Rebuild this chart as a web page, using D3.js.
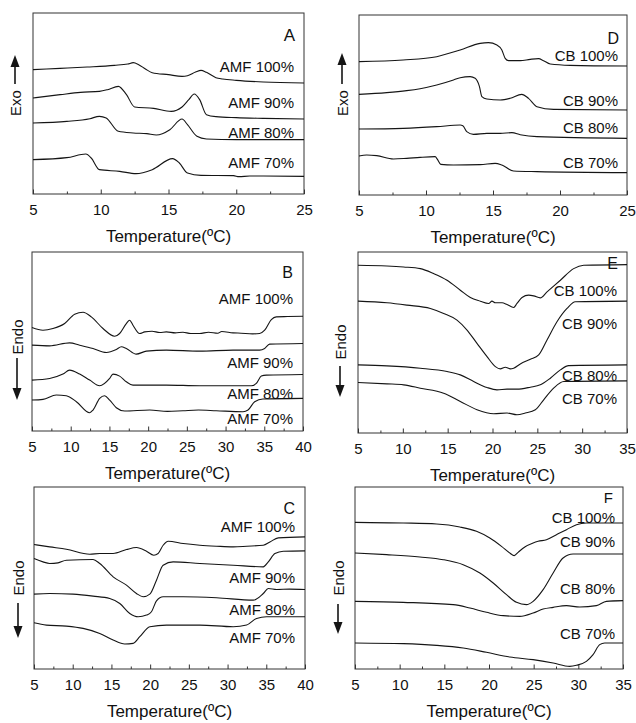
<!DOCTYPE html>
<html>
<head>
<meta charset="utf-8">
<script src="https://cdn.jsdelivr.net/npm/d3@7"></script>
<style>
  html, body { margin: 0; padding: 0; background: #fff; }
  svg { display: block; }
  text { font-family: "Liberation Sans", Arial, sans-serif; fill: #111; }
</style>
</head>
<body>
<svg id="chart" width="636" height="723"></svg>
<script>
// ---------------- DATA ----------------
// x: temperature (ºC); y: heat flow (arbitrary units)
const panelNames = ["A", "B", "C", "D", "E", "F"];
const labelsAMF = ["AMF 100%", "AMF 90%", "AMF 80%", "AMF 70%"];
const labelsCB = ["CB 100%", "CB 90%", "CB 80%", "CB 70%"];
const yLabels = ["Exo", "Endo", "Endo", "Exo", "Endo", "Endo"];
const xTitle = "Temperature(ºC)";

const xDomainAD = [5, 25], ticksAD = [5, 10, 15, 20, 25];
const xDomainBC = [5, 40], ticksBC = [5, 10, 15, 20, 25, 30, 35, 40];
const xDomainEF = [5, 35], ticksEF = [5, 10, 15, 20, 25, 30, 35];

// Panel A – AMF crystallisation (exo up)
const curvesA = [
  [[5,373],[7,377],[9,381],[11,386],[12,390],[12.4,394],[12.8,388],[13.3,375],[13.8,364],[15,358],[16,353],[16.4,355],[17,366],[17.4,371],[17.8,365],[18.5,349],[19,345],[20,341],[22,336],[25,333]],
  [[5,288],[7,298],[8.5,305],[9.9,308],[10.5,313],[11.3,323],[11.9,298],[12.5,261],[13.9,257],[15.2,248],[16,261],[16.5,283],[16.9,300],[17.3,283],[17.8,238],[18.5,232],[20,229],[22,227],[25,225]],
  [[5,213],[7.5,218],[9.2,226],[9.9,233],[10.4,228],[11.3,188],[12.4,183],[13.4,181],[14.1,177],[15.1,193],[16,225],[16.4,208],[17.1,173],[17.8,165],[20,163],[25,163]],
  [[5,103],[7.5,109],[8.9,120],[9.3,108],[9.9,73],[11.4,68],[12.6,61],[13.8,73],[15.3,106],[15.8,93],[16.4,63],[17.4,56],[19.8,55],[20.2,52],[21,54],[25,53]]
];
const domainA = [0, 543];

// Panel B – AMF melting (endo down)
const curvesB = [
  [[5,311],[6.42,303],[7.71,308],[9.22,323],[10.51,351],[11.59,357],[12.66,343],[14.17,308],[15.68,285],[16.32,293],[17.18,323],[17.61,333],[18.04,318],[18.9,293],[19.55,298],[20.5,300],[21.5,296],[22.35,298],[23.5,295],[24.5,297],[25.5,293],[26.65,293],[27.8,297],[29,294],[29.5,299],[30.96,295],[32,294],[33.5,292],[34.4,293],[35.05,303],[35.91,335],[36.55,343],[38,344],[40,345]],
  [[5,258],[7.28,256],[9.86,265],[11.16,258],[12.88,248],[14.6,236],[15.89,245],[16.54,253],[17.18,248],[18.47,231],[19.77,240],[22.35,243],[26.65,240],[30.96,243],[34.4,243],[35.05,248],[35.69,261],[40,263]],
  [[5,153],[7.28,158],[9.0,171],[9.86,183],[11.16,171],[12.45,153],[13.74,136],[15.03,158],[15.46,171],[16.32,165],[17.18,148],[18.04,138],[22.35,138],[26.65,136],[30.96,136],[33.33,136],[33.97,143],[34.62,165],[35.26,168],[40,170]],
  [[5,93],[6.42,95],[8.14,108],[9.43,106],[10.73,88],[12.45,55],[12.88,63],[13.74,98],[14.38,106],[15.03,93],[15.89,70],[16.97,60],[20.2,63],[22.5,59],[24.5,61],[26.5,63],[28.8,61],[32.25,58],[32.9,63],[33.76,88],[34.83,96],[40,98]]
];
const domainB = [0, 538];

// Panel C – AMF melting, second program (endo down)
const curvesC = [
  [[5,374],[7.03,367],[9.18,360],[12.2,345],[13.49,347],[15.22,347],[16.94,359],[18.23,365],[19.53,354],[20.47,342],[21.03,347],[21.68,372],[22.33,384],[24.27,377],[26.42,372],[28.58,369],[30.73,367],[32.5,369],[34.61,372],[35.47,382],[36.55,394],[40,397]],
  [[5,332],[6.16,322],[7.03,317],[8.1,319],[9.18,327],[12.63,329],[13.49,317],[15.22,277],[16.94,252],[18.23,227],[19.09,217],[19.96,225],[20.82,267],[21.68,312],[22.97,322],[26.42,317],[30.73,312],[34.61,307],[35.26,322],[36.12,347],[37.2,354],[40,355]],
  [[5,225],[7.03,227],[10.04,225],[12.63,219],[14.78,212],[16.08,197],[17.37,167],[18.45,157],[19.53,162],[20.17,172],[20.82,205],[21.68,217],[24.27,217],[28.58,214],[33.32,207],[34.61,227],[35.26,242],[36.34,239],[38,240],[40,239]],
  [[5,139],[6.59,132],[9.18,129],[11.34,122],[13.49,107],[15.22,87],[16.72,75],[17.8,77],[18.66,97],[19.96,127],[22.11,132],[26.42,132],[30.73,127],[32.46,132],[33.75,152],[35.04,157],[40,157]]
];
const domainC = [0, 547];

// Panel D – CB crystallisation (exo up)
const curvesD = [
  [[5,400],[8.3,405],[10.8,415],[12.55,435],[14.04,455],[14.66,457],[15.29,450],[15.66,435],[15.91,410],[16.16,403],[17.03,403],[17.78,407],[18.4,409],[18.77,403],[19.27,393],[20.77,389],[25,387]],
  [[5,302],[7.07,307],[8.56,313],[9.56,319],[10.8,330],[12.05,345],[12.55,352],[13.29,355],[13.67,350],[13.99,325],[14.17,295],[14.54,288],[15.54,285],[16.28,290],[17.15,302],[17.65,290],[18.28,265],[19.52,257],[25,255]],
  [[5,198],[8.31,200],[10.8,205],[12.55,210],[12.75,208],[13.04,190],[13.54,182],[14.54,185],[15.54,185],[16.41,187],[17.03,181],[18.28,175],[25,170]],
  [[5,117],[5.57,120],[6.32,118],[7.57,108],[8.56,110],[9.56,113],[10.68,115],[10.85,107],[11.1,92],[12.05,90],[14.04,91],[15.16,95],[15.66,90],[16.53,72],[18.28,70],[25,67]]
];
const domainD = [0, 540];

// Panel E – CB melting (endo down)
const curvesE = [
  [[5,505],[8.23,503],[10.09,500],[11.95,495],[13.44,480],[14.93,460],[16.41,430],[17.53,408],[18.64,397],[19.57,390],[19.94,397],[20.32,392],[21.06,392],[21.62,387],[22.36,378],[22.73,390],[23.29,408],[24.03,415],[24.59,413],[25.33,407],[26.08,425],[27.57,460],[29.05,495],[30.17,505],[35,507]],
  [[5,397],[8.23,392],[10.46,385],[13.07,375],[14.55,360],[16.04,340],[17.16,310],[18.27,270],[19.39,230],[20.32,200],[20.87,193],[21.43,198],[21.99,193],[22.36,195],[23.1,208],[24.22,222],[25.15,235],[26.08,280],[27.19,335],[28.31,375],[29.24,395],[35,397]],
  [[5,205],[8.23,202],[11.95,195],[14.93,185],[16.41,175],[17.9,155],[19.39,137],[20.5,130],[21.62,132],[22.73,132],[24.22,138],[25.33,145],[26.45,165],[27.57,190],[28.49,203],[35,205]],
  [[5,152],[8.23,148],[10.09,145],[11.95,135],[14.55,120],[16.41,95],[18.27,70],[20.13,58],[21.62,60],[22.73,55],[23.66,60],[24.78,70],[25.71,100],[26.82,135],[27.94,155],[35,157]]
];
const domainE = [0, 545];

// Panel F – CB melting, second program (endo down)
const curvesF = [
  [[5,440],[10.4,438],[14.13,435],[16.74,426],[18.6,413],[20.09,393],[21.4,368],[22.33,348],[22.82,340],[23.26,350],[24.01,366],[24.94,378],[25.5,383],[26.43,388],[27.55,403],[28.67,418],[29.79,433],[30.9,438],[35,438]],
  [[5,348],[8.54,343],[12.27,336],[14.88,328],[17.11,313],[18.98,288],[20.47,258],[21.96,223],[23.08,200],[24.19,193],[24.94,203],[26.06,238],[27.18,288],[28.29,333],[29.41,345],[35,345]],
  [[5,203],[10.4,200],[15.99,193],[17.86,183],[19.72,170],[21.59,160],[23.45,158],[24.94,168],[26.06,180],[27.18,185],[28.67,190],[30.16,186],[32.02,190],[33.14,203],[35,205]],
  [[5,78],[10.4,76],[14.13,71],[17.11,63],[19.72,50],[22.33,36],[24.94,28],[27.18,18],[29.04,8],[29.79,11],[30.9,23],[31.65,43],[32.39,73],[32.95,78],[35,78]]
];
const domainF = [0, 546];

// ---------------- LAYOUT ----------------
const layout = {
  A: {box: [33, 304, 13, 194],  xd: xDomainAD, ticks: ticksAD, yd: domainA, curves: curvesA, labels: labelsAMF,
      labY: [66, 102, 132, 162], labR: 294, letter: [295, 35], letterSize: 17,
      ylab: {x: 15, cy: 103, a0: 84, a1: 55}},
  B: {box: [32, 303, 252, 431], xd: xDomainBC, ticks: ticksBC, yd: domainB, curves: curvesB, labels: labelsAMF,
      labY: [298, 362, 393, 418], labR: 293, letter: [293, 272], letterSize: 16,
      ylab: {x: 17, cy: 337, a0: 358, a1: 400}},
  C: {box: [34, 305, 487, 669], xd: xDomainBC, ticks: ticksBC, yd: domainC, curves: curvesC, labels: labelsAMF,
      labY: [526, 577, 609, 637], labR: 295, letter: [295, 508], letterSize: 16,
      ylab: {x: 18, cy: 578, a0: 603, a1: 638}},
  D: {box: [359, 627, 15, 195], xd: xDomainAD, ticks: ticksAD, yd: domainD, curves: curvesD, labels: labelsCB,
      labY: [55, 100, 127, 162], labR: 618, letter: [619, 38], letterSize: 16,
      ylab: {x: 342, cy: 103, a0: 84, a1: 53}},
  E: {box: [358, 627, 252, 433], xd: xDomainEF, ticks: ticksEF, yd: domainE, curves: curvesE, labels: labelsCB,
      labY: [290, 323, 375, 398], labR: 617, letter: [618, 263], letterSize: 16,
      ylab: {x: 340, cy: 342, a0: 366, a1: 397}},
  F: {box: [355, 623, 487, 669], xd: xDomainEF, ticks: ticksEF, yd: domainF, curves: curvesF, labels: labelsCB,
      labY: [517, 541, 588, 633], labR: 615, letter: [613, 497], letterSize: 15,
      ylab: {x: 338, cy: 578, a0: 604, a1: 634}}
};

const svg = d3.select("#chart");
const ink = "#151515";

panelNames.forEach((name, pi) => {
  const p = layout[name];
  const [x0, x1, y0, y1] = p.box;
  const x = d3.scaleLinear().domain(p.xd).range([x0, x1]);
  const y = d3.scaleLinear().domain(p.yd).range([y1, y0]);
  const g = svg.append("g");

  // frame
  g.append("rect").attr("x", x0).attr("y", y0).attr("width", x1 - x0).attr("height", y1 - y0)
    .attr("fill", "none").attr("stroke", "#333").attr("stroke-width", 1);

  // minor ticks
  const step = p.ticks[1] - p.ticks[0];
  const minor = p.ticks.slice(0, -1).map(t => t + step / 2);
  const minorAxis = d3.axisBottom(x).tickValues(minor).tickSize(-2.5).tickFormat("");
  g.append("g").attr("transform", `translate(0,${y1})`).call(minorAxis)
    .call(s => s.select(".domain").remove())
    .call(s => s.selectAll("line").attr("stroke", "#333"));

  // major ticks + labels
  const axis = d3.axisBottom(x).tickValues(p.ticks).tickSizeInner(-4.5).tickSizeOuter(0).tickPadding(10)
    .tickFormat(d3.format("d"));
  g.append("g").attr("transform", `translate(0,${y1})`).call(axis)
    .call(s => s.select(".domain").remove())
    .call(s => s.selectAll("line").attr("stroke", "#333"))
    .call(s => s.selectAll("text").attr("font-size", 15).attr("fill", ink)
      .attr("font-family", '"Liberation Sans", Arial, sans-serif'));

  // x title
  g.append("text").attr("x", (x0 + x1) / 2).attr("y", y1 + 42)
    .attr("text-anchor", "middle").attr("dominant-baseline", "central")
    .attr("font-size", 17).text(xTitle);

  // curves
  const line = d3.line().x(d => x(d[0])).y(d => y(d[1])).curve(d3.curveMonotoneX);
  p.curves.forEach(c => {
    g.append("path").attr("d", line(c)).attr("fill", "none")
      .attr("stroke", ink).attr("stroke-width", 1.1).attr("stroke-linejoin", "round");
  });

  // series labels
  p.labels.forEach((lab, i) => {
    g.append("text").attr("x", p.labR).attr("y", p.labY[i])
      .attr("text-anchor", "end").attr("dominant-baseline", "central")
      .attr("font-size", 15).text(lab);
  });

  // panel letter
  g.append("text").attr("x", p.letter[0]).attr("y", p.letter[1])
    .attr("text-anchor", "end").attr("dominant-baseline", "central")
    .attr("font-size", p.letterSize).text(name);

  // y label with arrow
  const yl = p.ylab;
  g.append("text").attr("transform", `translate(${yl.x},${yl.cy}) rotate(-90)`)
    .attr("text-anchor", "middle").attr("dominant-baseline", "central")
    .attr("font-size", 15).text(yLabels[pi]);
  const dir = Math.sign(yl.a1 - yl.a0);
  const headLen = 12, headW = 4.5;
  g.append("line").attr("x1", yl.x).attr("x2", yl.x).attr("y1", yl.a0).attr("y2", yl.a1 - dir * headLen)
    .attr("stroke", ink).attr("stroke-width", 1.6);
  g.append("path")
    .attr("d", `M${yl.x},${yl.a1} L${yl.x - headW},${yl.a1 - dir * headLen} L${yl.x + headW},${yl.a1 - dir * headLen} Z`)
    .attr("fill", ink);
});
</script>
</body>
</html>
